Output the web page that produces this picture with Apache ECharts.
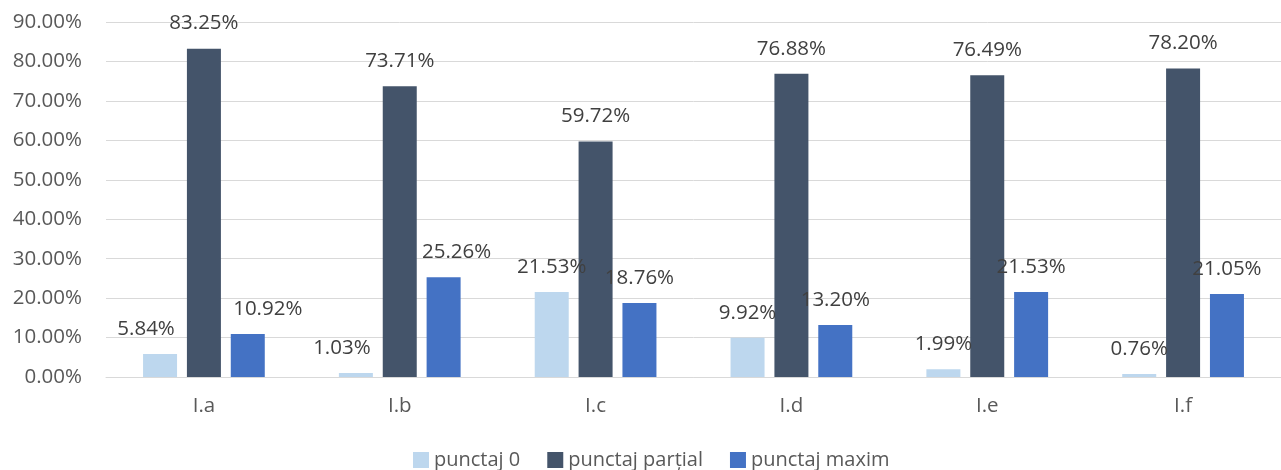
<!DOCTYPE html>
<html>
<head>
<meta charset="utf-8">
<script src="https://cdn.jsdelivr.net/npm/echarts@6/dist/echarts.min.js"></script>
<style>
html,body{margin:0;padding:0;background:#fff;}
#chart{width:1281px;height:470px;}
</style>
</head>
<body>
<div id="chart"></div>
<script>
var categories = ['I.a', 'I.b', 'I.c', 'I.d', 'I.e', 'I.f'];
var seriesNames = ['punctaj 0', 'punctaj parțial', 'punctaj maxim'];
var punctaj0 = [5.84, 1.03, 21.53, 9.92, 1.99, 0.76];
var punctajPartial = [83.25, 73.71, 59.72, 76.88, 76.49, 78.20];
var punctajMaxim = [10.92, 25.26, 18.76, 13.20, 21.53, 21.05];
var yTicks = [0, 10, 20, 30, 40, 50, 60, 70, 80, 90];

var colors = ['#BDD7EE', '#44546A', '#4472C4'];
var FONT = 'Open Sans';
// horizontal nudges of a few data labels (as in the reference)
var labelShift = {
  0: {0: -14, 1: -14},
  2: {0: 20, 1: 13}
};

function buildData(values, sIdx) {
  return values.map(function (v, i) {
    var item = {value: v};
    if (labelShift[sIdx] && labelShift[sIdx][i] !== undefined) {
      item.label = {offset: [labelShift[sIdx][i], 0]};
    }
    return item;
  });
}

var allValues = [punctaj0, punctajPartial, punctajMaxim];
var series = allValues.map(function (vals, s) {
  return {
    name: seriesNames[s],
    type: 'bar',
    barWidth: 34,
    barGap: '29%',
    itemStyle: {color: colors[s]},
    label: {
      show: true,
      position: 'top',
      distance: 15,
      fontFamily: FONT,
      fontSize: 20.5,
      lineHeight: 20,
      color: '#404040',
      formatter: function (p) { return p.value.toFixed(2) + '%'; }
    },
    data: buildData(vals, s)
  };
});

var chart = echarts.init(document.getElementById('chart'), null, {renderer: 'canvas'});
chart.setOption({
  animation: false,
  color: colors,
  textStyle: {fontFamily: FONT},
  grid: {left: 106, right: -9, top: 22, bottom: 93, containLabel: false},
  legend: {
    top: 450,
    left: 413,
    padding: 0,
    itemWidth: 16,
    itemHeight: 16,
    itemGap: 27,
    icon: 'rect',
    textStyle: {fontFamily: FONT, fontSize: 20, lineHeight: 20, color: '#595959'},
    data: seriesNames
  },
  xAxis: {
    type: 'category',
    data: categories,
    axisLine: {lineStyle: {color: '#D9D9D9', width: 1}},
    axisTick: {show: false},
    axisLabel: {fontFamily: FONT, fontSize: 20.5, color: '#595959', margin: 19}
  },
  yAxis: {
    type: 'value',
    min: yTicks[0],
    max: yTicks[yTicks.length - 1],
    interval: 10,
    axisLine: {show: false},
    axisTick: {show: false},
    splitLine: {lineStyle: {color: '#D9D9D9', width: 1}},
    axisLabel: {
      fontFamily: FONT, fontSize: 20.5, color: '#595959', margin: 24,
      formatter: function (v) { return v.toFixed(2) + '%'; }
    }
  },
  series: series
});
</script>
</body>
</html>
